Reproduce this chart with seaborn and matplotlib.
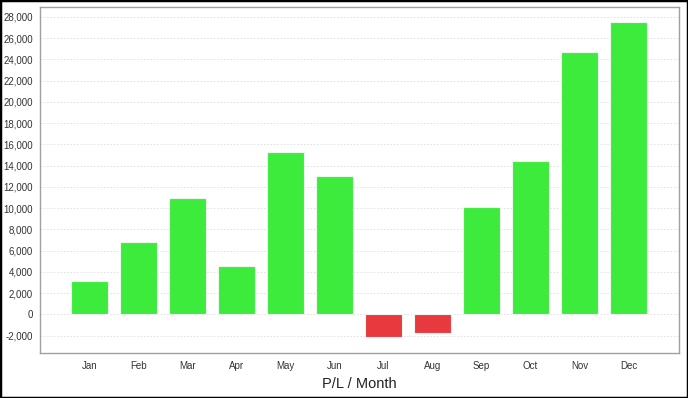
import seaborn as sns
import pandas as pd
from matplotlib import pyplot as plt
from matplotlib.patches import Rectangle
from matplotlib.ticker import FuncFormatter

months = ["Jan", "Feb", "Mar", "Apr", "May", "Jun",
          "Jul", "Aug", "Sep", "Oct", "Nov", "Dec"]
pl_values = [3140, 6810, 10930, 4580, 15260, 13060,
             -2140, -1760, 10110, 14450, 24690, 27480]
y_ticks = list(range(-2000, 28001, 2000))

GREEN = "#3deb3d"
RED = "#e8393f"

df = pd.DataFrame({"month": months, "pl": pl_values})
df["sign"] = ["gain" if v >= 0 else "loss" for v in df["pl"]]

sns.set_style("white")
plt.rcParams["font.family"] = ["Liberation Sans", "DejaVu Sans"]

fig = plt.figure(figsize=(6.88, 3.98), dpi=100)
ax = fig.add_axes([40 / 688, 45 / 398, 639 / 688, 346 / 398])

sns.barplot(data=df, x="month", y="pl", hue="sign",
            palette={"gain": GREEN, "loss": RED}, dodge=False, saturation=1,
            width=0.755, edgecolor="#eef7ee", linewidth=0.8,
            legend=False, ax=ax, zorder=3)

ax.set_xlim(-1.01, 12.03)
ax.set_ylim(-3646, 28926)
ax.set_yticks(y_ticks)
ax.yaxis.set_major_formatter(FuncFormatter(lambda v, p: f"{int(v):,}"))
ax.grid(axis="y", color="#dddddd", linestyle=(0, (2, 2)), linewidth=0.6, zorder=0)
ax.set_axisbelow(True)

for s in ax.spines.values():
    s.set_color("#a0a0a0")
    s.set_linewidth(1)

ax.tick_params(axis="both", labelsize=7, colors="#a0a0a0", labelcolor="#333333",
               length=3, width=0.8, direction="out")
ax.tick_params(axis="x", pad=3)
ax.tick_params(axis="y", length=0, pad=5)

ax.set_ylabel("")
ax.set_xlabel("P/L / Month", fontsize=10.5, color="#222222", labelpad=4)

fig.patches.append(Rectangle((0, 0), 1, 1, transform=fig.transFigure,
                             fill=False, edgecolor="black", linewidth=2.5))

fig.savefig("out.png", dpi=100)
